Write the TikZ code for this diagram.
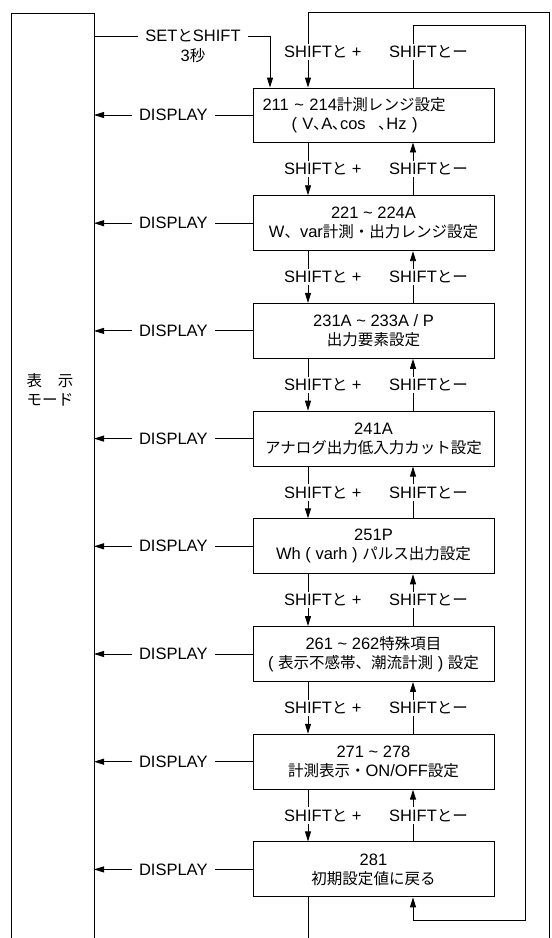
\documentclass[tikz,border=0pt]{standalone}
\usepackage{fontspec}
\setmainfont{Liberation Sans}
\newfontfamily\jp[Scale=0.94]{Noto Sans CJK JP}
\newcommand\J[1]{{\jp #1}}
\usetikzlibrary{arrows.meta,calc}
\begin{document}
\begin{tikzpicture}[x=1pt,y=-1pt,
  every node/.style={font=\fontsize{16.5}{19}\selectfont, inner sep=0pt},
  ln/.style={line width=0.9pt},
  arr/.style={ln,-{Triangle[length=10pt,width=6pt]}},
  stepbox/.style={draw,line width=0.9pt,minimum width=241pt,minimum height=55pt,align=center},
  lbl/.style={fill=white,inner xsep=1.5pt,inner ysep=2pt,anchor=west},
  disp/.style={fill=white,inner xsep=7pt,inner ysep=2pt}
]
\useasboundingbox (0,0) rectangle (552,938);
% helper coordinates
\coordinate (xd) at (308,0);
\coordinate (xu) at (413,0);
\coordinate (sx) at (270,0);
\coordinate (la) at (282.5,0);
\coordinate (lb) at (387.5,0);
\coordinate (LT) at (11,13);
\coordinate (RT) at (94,13);
\coordinate (LB) at (11,938);
\coordinate (RB) at (94,938);
\coordinate (setstart) at (94,36);
\coordinate (outTR) at (549,12);
\coordinate (outBR) at (549,938);
\coordinate (inTR) at (525,25);
\coordinate (inBR) at (525,920);

% left mode box
\draw[ln] (LB) -- (LT) -- (RT) -- (RB);
\node[align=center] (mode) at (50,390) {\J{表　示}\\\J{モード}};

% step boxes
\node[stepbox,align=left,text width=222pt,inner xsep=9.5pt,minimum height=54pt] (b1) at (373.5,115) {211 \textasciitilde{} 214\J{計測レンジ設定}\\\hspace*{29pt}( V\J{､}A\J{､}cos\hspace{13pt}\J{､}Hz )};
\node[stepbox] (b2) at (373.5,223.2) {221 \textasciitilde{} 224A\\W\J{、}var\J{計測・出力レンジ設定}};
\node[stepbox] (b3) at (373.5,330.9) {231A \textasciitilde{} 233A / P\\\J{出力要素設定}};
\node[stepbox] (b4) at (373.5,438.6) {241A\\\J{アナログ出力低入力カット設定}};
\node[stepbox] (b5) at (373.5,546.3) {251P\\Wh ( varh ) \J{パルス出力設定}};
\node[stepbox] (b6) at (373.5,654.0) {261 \textasciitilde{} 262\J{特殊項目}\\( \J{表示不感帯、潮流計測} ) \J{設定}};
\node[stepbox] (b7) at (373.5,761.7) {271 \textasciitilde{} 278\\\J{計測表示・}ON/OFF\J{設定}};
\node[stepbox] (b8) at (373.5,869.4) {281\\\J{初期設定値に戻る}};

% DISPLAY arrows
\foreach \b in {b1,b2,b3,b4,b5,b6,b7,b8}{
  \draw[arr] (\b.west) -- (\b.west -| RT) node[disp,pos=0.5] {DISPLAY};
}

% SET and SHIFT entry
\draw[arr] (setstart) -- (setstart -| sx) -- (b1.north -| sx);
\node[fill=white,inner xsep=7pt,inner ysep=2pt] (setlbl) at (193,36) {SET\J{と}SHIFT};
\node (sec) at (193,56) {3\J{秒}};

% outer loop (SHIFT and + from last to first)
\draw[arr] (outBR) -- (outTR) -- (outTR -| xd) -- (b1.north -| xd);
\draw[ln] (b8.south -| xd) -- (outBR -| xd);
% inner loop (SHIFT and - from first to last)
\draw[arr] (b1.north -| xu) -- (inTR -| xu) -- (inTR) -- (inBR) -- (inBR -| xu) -- (b8.south -| xu);
\node[lbl] (tp) at (la |- 0,52) {SHIFT\J{と} +};
\node[lbl] (tm) at (lb |- 0,52) {SHIFT\J{とー}};

% between boxes
\foreach \i/\j in {1/2,2/3,3/4,4/5,5/6,6/7,7/8}{
  \draw[arr] (b\i.south -| xd) -- (b\j.north -| xd);
  \draw[arr] (b\j.north -| xu) -- (b\i.south -| xu);
  \path (b\i.south) -- (b\j.north) coordinate[pos=0.5] (m\i);
  \node[lbl] (p\i) at (m\i -| la) {SHIFT\J{と} +};
  \node[lbl] (q\i) at (m\i -| lb) {SHIFT\J{とー}};
}
\end{tikzpicture}
\end{document}
